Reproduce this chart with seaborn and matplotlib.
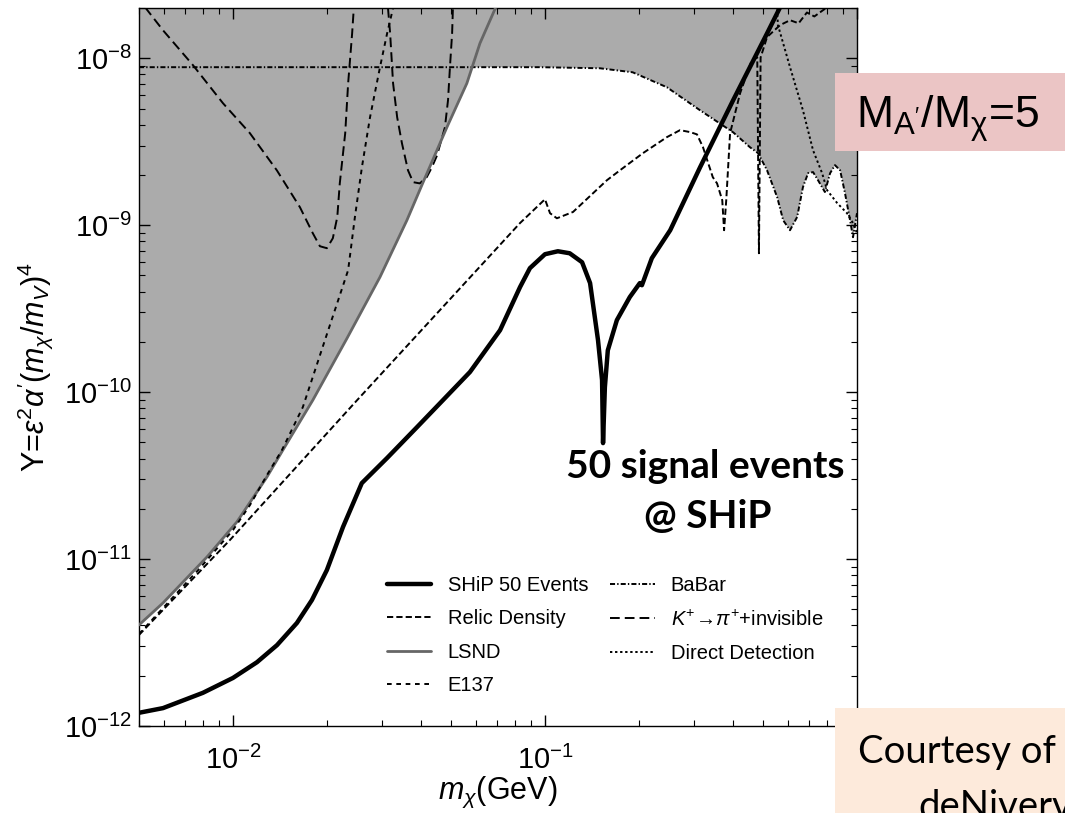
import numpy as np
import matplotlib
matplotlib.use("Agg")
import matplotlib.pyplot as plt
import seaborn as sns
from matplotlib.patches import Rectangle
from matplotlib.ticker import LogLocator, NullFormatter, FixedLocator, FixedFormatter

# ---------------- data ----------------
ship_x = [0.0050, 0.00597, 0.00801, 0.0100, 0.01194, 0.01384, 0.01603, 0.01791, 0.0200,
          0.02254, 0.02588, 0.03119, 0.0389, 0.0471, 0.0575, 0.0718, 0.0832, 0.0895, 0.100,
          0.110, 0.120, 0.1315, 0.1395, 0.1479, 0.1524, 0.1535, 0.1556, 0.159, 0.170, 0.187,
          0.2014, 0.2045, 0.220, 0.252, 0.314, 0.401, 0.515, 0.567]
ship_y = [1.20e-12, 1.28e-12, 1.58e-12, 1.94e-12, 2.41e-12, 3.05e-12, 4.14e-12, 5.68e-12, 8.59e-12,
          1.56e-11, 2.85e-11, 4.03e-11, 6.17e-11, 8.95e-11, 1.32e-10, 2.35e-10, 4.26e-10, 5.53e-10, 6.70e-10,
          6.98e-10, 6.79e-10, 6.0e-10, 4.50e-10, 2.05e-10, 1.18e-10, 4.95e-11, 1.07e-10, 1.78e-10, 2.70e-10, 3.71e-10,
          4.50e-10, 4.37e-10, 6.34e-10, 9.33e-10, 2.22e-9, 5.61e-9, 1.41e-8, 2.02e-8]

relic_x = [0.005, 0.00978, 0.0250, 0.0832, 0.100, 0.1038, 0.1092, 0.123, 0.158, 0.1738, 0.206,
           0.246, 0.271, 0.292, 0.307, 0.321, 0.345, 0.356, 0.370, 0.375, 0.381, 0.392, 0.422,
           0.460, 0.479, 0.485, 0.491, 0.515, 0.567, 0.610, 0.650, 0.691, 0.730, 0.778, 0.802]
relic_y = [3.51e-12, 1.30e-11, 8.95e-11, 1.03e-9, 1.43e-9, 1.18e-9, 1.10e-9, 1.20e-9, 1.86e-9, 2.13e-9, 2.70e-9,
           3.37e-9, 3.71e-9, 3.61e-9, 3.50e-9, 2.93e-9, 1.94e-9, 1.78e-9, 1.41e-9, 9.33e-10, 1.41e-9, 3.56e-9, 6.17e-9,
           9.73e-9, 1.01e-8, 6.79e-10, 1.01e-8, 1.34e-8, 1.58e-8, 1.69e-8, 1.62e-8, 1.88e-8, 1.78e-8, 1.94e-8, 2.02e-8]

lsnd_x = [0.005, 0.00597, 0.00826, 0.0103, 0.01285, 0.01446, 0.01803, 0.0232, 0.0296, 0.0361,
          0.0407, 0.0485, 0.0562, 0.0619, 0.0702]
lsnd_y = [4.03e-12, 5.46e-12, 1.03e-11, 1.67e-11, 3.10e-11, 4.50e-11, 8.95e-11, 2.10e-10, 4.89e-10, 1.07e-9,
          1.81e-9, 3.86e-9, 7.08e-9, 1.23e-8, 2.10e-8]

e137_x = [0.005, 0.00784, 0.0100, 0.01133, 0.01285, 0.01436, 0.01675, 0.01972, 0.0234, 0.0246,
          0.0259, 0.0275, 0.0296, 0.0312, 0.0326]
e137_y = [3.56e-12, 8.83e-12, 1.49e-11, 2.10e-11, 3.18e-11, 4.50e-11, 8.13e-11, 2.05e-10, 5.38e-10, 1.12e-9,
          2.22e-9, 4.43e-9, 8.84e-9, 1.41e-8, 2.0e-8]

babar_x = [0.005, 0.0964, 0.150, 0.191, 0.246, 0.314, 0.401, 0.454, 0.482, 0.515, 0.555, 0.580,
           0.610, 0.643, 0.671, 0.697, 0.723, 0.750, 0.789, 0.820, 0.850, 0.883, 0.915, 0.950, 0.971, 1.0]
babar_y = [8.84e-9, 8.84e-9, 8.71e-9, 8.24e-9, 6.70e-9, 4.88e-9, 3.60e-9, 2.93e-9, 2.70e-9, 2.13e-9, 1.47e-9, 1.07e-9,
           9.33e-10, 1.12e-9, 1.69e-9, 2.05e-9, 2.08e-9, 1.86e-9, 1.58e-9, 2.05e-9, 2.29e-9, 2.13e-9, 1.56e-9, 1.07e-9,
           8.47e-10, 1.18e-9]

kpi1_x = [0.00523, 0.00597, 0.00745, 0.00929, 0.01133, 0.01383, 0.01640, 0.01803, 0.0190, 0.0200,
          0.0209, 0.0216, 0.0220, 0.0229, 0.0234, 0.0241, 0.0244]
kpi1_y = [2.02e-8, 1.47e-8, 9.08e-9, 5.38e-9, 3.56e-9, 2.13e-9, 1.28e-9, 8.95e-10, 7.48e-10, 7.28e-10,
          8.35e-10, 1.12e-9, 1.78e-9, 3.56e-9, 7.08e-9, 1.41e-8, 2.0e-8]
kpi2_x = [0.0314, 0.0319, 0.0326, 0.0336, 0.0348, 0.0364, 0.0378, 0.0397, 0.0418, 0.0434, 0.0451,
          0.0478, 0.0489, 0.0496, 0.0504, 0.0507]
kpi2_y = [2.0e-8, 1.41e-8, 7.08e-9, 4.43e-9, 3.10e-9, 2.13e-9, 1.81e-9, 1.78e-9, 1.94e-9, 2.22e-9, 2.62e-9,
          3.86e-9, 5.61e-9, 8.84e-9, 1.41e-8, 2.0e-8]

dd_x = [0.553, 0.558, 0.610, 0.671, 0.723, 0.773, 0.802, 0.863, 0.929, 0.971, 1.0]
dd_y = [2.1e-8, 1.58e-8, 8.84e-9, 4.88e-9, 2.81e-9, 2.05e-9, 1.62e-9, 1.36e-9, 1.18e-9, 1.03e-9, 8.95e-10]

legend_labels = ["SHiP 50 Events", "Relic Density", "LSND", "E137", "BaBar",
                 r"$K^{+}\!\rightarrow\!\pi^{+}$+invisible", "Direct Detection"]

x_ticks = [0.01, 0.1, 1.0]
x_tick_labels = [r"$10^{-2}$", r"$10^{-1}$", ""]

# ---------------- style ----------------
sns.set_style("ticks")
plt.rcParams["font.family"] = ["Liberation Sans", "DejaVu Sans"]
plt.rcParams["mathtext.fontset"] = "custom"
plt.rcParams["mathtext.rm"] = "Liberation Sans"
plt.rcParams["mathtext.it"] = "Liberation Sans:italic"
plt.rcParams["mathtext.bf"] = "Liberation Sans:bold"
plt.rcParams["mathtext.sf"] = "Liberation Sans"
for k in ["text.color", "axes.labelcolor", "xtick.color", "ytick.color", "axes.edgecolor"]:
    plt.rcParams[k] = "black"

fig = plt.figure(figsize=(10.65, 8.13), dpi=100)
ax = fig.add_axes([139 / 1065, 87 / 813, 718 / 1065, 718 / 813])
ax.set_xscale("log")
ax.set_yscale("log")
ax.set_xlim(0.005, 1.0)
ax.set_ylim(1e-12, 2e-8)

# excluded (grey) region: above the lower envelope of LSND and BaBar
grid = np.logspace(np.log10(0.005), 0, 3000)
lg = np.log10(grid)
env_l = np.interp(lg, np.log10(lsnd_x), np.log10(lsnd_y), right=5.0)
env_b = np.interp(lg, np.log10(babar_x), np.log10(babar_y))
env = 10 ** np.minimum(env_l, env_b)
ax.fill_between(grid, env, 1e-6, color="#ababab", lw=0, zorder=0)

def draw(x, y, color, lw, ls, label=None, z=3):
    sns.lineplot(x=x, y=y, ax=ax, color=color, linewidth=lw, sort=False,
                 estimator=None, zorder=z, legend=False)
    ln = ax.get_lines()[-1]
    ln.set_linestyle(ls)
    if label is not None:
        ln.set_label(label)
    return ln

h_babar = draw(babar_x, babar_y, "black", 1.4, (0, (2.6, 1.1, 0.7, 1.1)), legend_labels[4])
h_dd = draw(dd_x, dd_y, "black", 1.4, (0, (1.2, 1.4)), legend_labels[6])
h_k = draw(kpi1_x, kpi1_y, "black", 1.4, (0, (5.0, 2.6)), legend_labels[5])
draw(kpi2_x, kpi2_y, "black", 1.4, (0, (5.0, 2.6)))
h_lsnd = draw(lsnd_x, lsnd_y, "#666666", 2.0, "-", legend_labels[2])
h_e137 = draw(e137_x, e137_y, "black", 1.4, (0, (2.4, 2.4)), legend_labels[3])
h_relic = draw(relic_x, relic_y, "black", 1.4, (0, (3.2, 1.6)), legend_labels[1])
h_ship = draw(ship_x, ship_y, "black", 3.2, "-", legend_labels[0], z=5)

# ---------------- axes ----------------
ax.xaxis.set_major_locator(FixedLocator(x_ticks))
ax.xaxis.set_major_formatter(FixedFormatter(x_tick_labels))
ax.xaxis.set_minor_locator(LogLocator(base=10, subs=np.arange(2, 10), numticks=20))
ax.yaxis.set_major_locator(LogLocator(base=10, numticks=20))
ax.yaxis.set_minor_locator(LogLocator(base=10, subs=np.arange(2, 10), numticks=20))
ax.xaxis.set_minor_formatter(NullFormatter())
ax.yaxis.set_minor_formatter(NullFormatter())
ax.tick_params(which="both", direction="in", top=True, right=True, colors="black")
ax.tick_params(which="major", length=8, width=1.0, labelsize=21)
ax.tick_params(axis="x", which="major", pad=14)
ax.tick_params(axis="y", which="major", pad=5)
ax.tick_params(which="minor", length=4, width=0.8)
for s in ax.spines.values():
    s.set_color("black")
    s.set_linewidth(1.0)

ax.set_xlabel(r"$m_\chi$(GeV)", fontsize=22, labelpad=0)
ax.set_ylabel(r"Y=$\varepsilon^2\alpha'(m_\chi/m_V)^4$", fontsize=22, labelpad=6)

ax.legend([h_ship, h_relic, h_lsnd, h_e137, h_babar, h_k, h_dd],
          legend_labels,
          ncol=2, frameon=False, loc="lower left", bbox_to_anchor=(0.34, 0.037),
          fontsize=14.5, handlelength=2.2, handletextpad=0.8, columnspacing=1.1,
          labelspacing=0.72, borderpad=0.2, borderaxespad=0)

# annotation
ax.text(0.788, 0.345, "50 signal events", transform=ax.transAxes, ha="center", va="baseline",
        fontsize=28, fontweight="bold", family="Lato", color="black", zorder=6)
ax.text(0.792, 0.276, "@ SHiP", transform=ax.transAxes, ha="center", va="baseline",
        fontsize=28, fontweight="bold", family="Lato", color="black", zorder=6)

# slide boxes
fig.add_artist(Rectangle((835 / 1065, (813 - 151) / 813), 0.3, 78 / 813, transform=fig.transFigure,
                         facecolor="#ebc5c5", edgecolor="none", zorder=10))
fig.text(856 / 1065, (813 - 128) / 813, r"M$_{\mathrm{A'}}$/M$_{\mathrm{\chi}}$=5", fontsize=32,
         family="Liberation Sans", ha="left", va="baseline", color="black", zorder=11)
fig.add_artist(Rectangle((835 / 1065, 0), 0.3, 105 / 813, transform=fig.transFigure,
                         facecolor="#fdeadb", edgecolor="none", zorder=10))
fig.text(858 / 1065, (813 - 763) / 813, "Courtesy of", fontsize=27.5, family="Lato",
         ha="left", va="baseline", color="black", zorder=11)
fig.text(918 / 1065, (813 - 818) / 813, "deNiverville", fontsize=27.5, family="Lato",
         ha="left", va="baseline", color="black", zorder=11)

fig.savefig("out.png", dpi=100)
